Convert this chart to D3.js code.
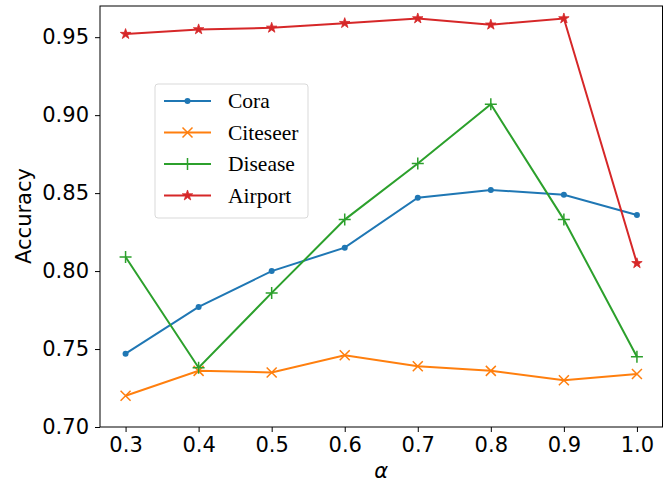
<!DOCTYPE html>
<html>
<head>
<meta charset="utf-8">
<script src="https://cdn.jsdelivr.net/npm/d3@7"></script>
<style>
  body { margin: 0; background: #fff; }
  svg { display: block; }
</style>
</head>
<body>
<svg id="chart" width="671" height="485"></svg>
<script>
// values
var alphas = [0.3, 0.4, 0.5, 0.6, 0.7, 0.8, 0.9, 1.0];
var cora = [0.747, 0.777, 0.800, 0.815, 0.847, 0.852, 0.849, 0.836];
var citeseer = [0.720, 0.736, 0.735, 0.746, 0.739, 0.736, 0.730, 0.734];
var disease = [0.809, 0.738, 0.786, 0.833, 0.869, 0.907, 0.833, 0.745];
var airport = [0.952, 0.955, 0.956, 0.959, 0.962, 0.958, 0.962, 0.805];
var seriesNames = ["Cora", "Citeseer", "Disease", "Airport"];
var yTicks = [0.70, 0.75, 0.80, 0.85, 0.90, 0.95];

var series = [
  { name: seriesNames[0], values: cora, color: "#1f77b4", marker: "dot" },
  { name: seriesNames[1], values: citeseer, color: "#ff7f0e", marker: "x" },
  { name: seriesNames[2], values: disease, color: "#2ca02c", marker: "plus" },
  { name: seriesNames[3], values: airport, color: "#d62728", marker: "star" }
];

var svg = d3.select("#chart"),
  margin = { top: 6, right: 8.5, bottom: 58, left: 100 },
  width = +svg.attr("width") - margin.left - margin.right,
  height = +svg.attr("height") - margin.top - margin.bottom,
  g = svg.append("g")
    .attr("transform", "translate(" + margin.left + "," + margin.top + ")");

var x = d3.scaleLinear().domain([0.265, 1.035]).range([0, width]);
var y = d3.scaleLinear().domain([0.70, 0.970]).range([height, 0]);

function drawMarker(sel, type, color) {
  if (type === "dot") {
    sel.append("circle").attr("r", 3).attr("fill", color);
  } else if (type === "x") {
    sel.append("path").attr("d", "M-5,-5L5,5M-5,5L5,-5")
      .attr("stroke", color).attr("stroke-width", 1.5).attr("fill", "none");
  } else if (type === "plus") {
    sel.append("path").attr("d", "M-6,0L6,0M0,-6L0,6")
      .attr("stroke", color).attr("stroke-width", 1.5).attr("fill", "none");
  } else if (type === "star") {
    sel.append("path")
      .attr("d", d3.symbol().type(d3.symbolStar).size(34)())
      .attr("fill", color).attr("stroke", color).attr("stroke-width", 0.8);
  }
}

var line = d3.line()
  .x(function(d, i) { return x(alphas[i]); })
  .y(function(d) { return y(d); });

series.forEach(function(s) {
  g.append("path")
    .datum(s.values)
    .attr("fill", "none")
    .attr("stroke", s.color)
    .attr("stroke-width", 2)
    .attr("d", line);
  g.selectAll(null)
    .data(s.values)
    .enter()
    .append("g")
    .attr("transform", function(d, i) {
      return "translate(" + x(alphas[i]) + "," + y(d) + ")";
    })
    .each(function() { drawMarker(d3.select(this), s.marker, s.color); });
});

// axes
var xAxis = g.append("g")
  .attr("transform", "translate(0," + height + ")")
  .call(d3.axisBottom(x).tickValues(alphas).tickFormat(d3.format(".1f")).tickSize(5).tickPadding(5));
var yAxis = g.append("g")
  .call(d3.axisLeft(y).tickValues(yTicks).tickFormat(d3.format(".2f")).tickSize(5).tickPadding(6));

[xAxis, yAxis].forEach(function(a) {
  a.select(".domain").remove();
  a.selectAll("text")
    .attr("font-family", "DejaVu Sans, sans-serif")
    .attr("font-size", 21)
    .attr("fill", "#000");
  a.selectAll("line").attr("stroke", "#000").attr("stroke-width", 1);
});

g.append("rect")
  .attr("width", width).attr("height", height)
  .attr("fill", "none").attr("stroke", "#000").attr("stroke-width", 1);

svg.append("text")
  .attr("transform", "translate(31," + 216 + ") rotate(-90)")
  .attr("text-anchor", "middle")
  .attr("font-family", "DejaVu Sans, sans-serif")
  .attr("font-size", 21)
  .text("Accuracy");

svg.append("text")
  .attr("x", margin.left + x(0.65))
  .attr("y", 478)
  .attr("text-anchor", "middle")
  .attr("font-family", "DejaVu Sans, sans-serif")
  .attr("font-style", "italic")
  .attr("font-size", 21)
  .text("α");

// legend
var legend = g.append("g").attr("transform", "translate(55,78)");
legend.append("rect")
  .attr("width", 153).attr("height", 134)
  .attr("rx", 3)
  .attr("fill", "#fff").attr("fill-opacity", 0.8)
  .attr("stroke", "#d9d9d9");
var items = legend.selectAll("g.item")
  .data(series)
  .enter()
  .append("g")
  .attr("class", "item")
  .attr("transform", function(d, i) { return "translate(0," + (17 + i * 31.5) + ")"; });
items.append("line")
  .attr("x1", 9).attr("x2", 56)
  .attr("stroke", function(d) { return d.color; })
  .attr("stroke-width", 2);
items.append("g")
  .attr("transform", "translate(32.5,0)")
  .each(function(d) { drawMarker(d3.select(this), d.marker, d.color); });
items.append("text")
  .attr("x", 73)
  .attr("dy", "0.33em")
  .attr("font-family", "Liberation Serif, Times New Roman, serif")
  .attr("font-size", 21.5)
  .text(function(d) { return d.name; });
</script>
</body>
</html>
